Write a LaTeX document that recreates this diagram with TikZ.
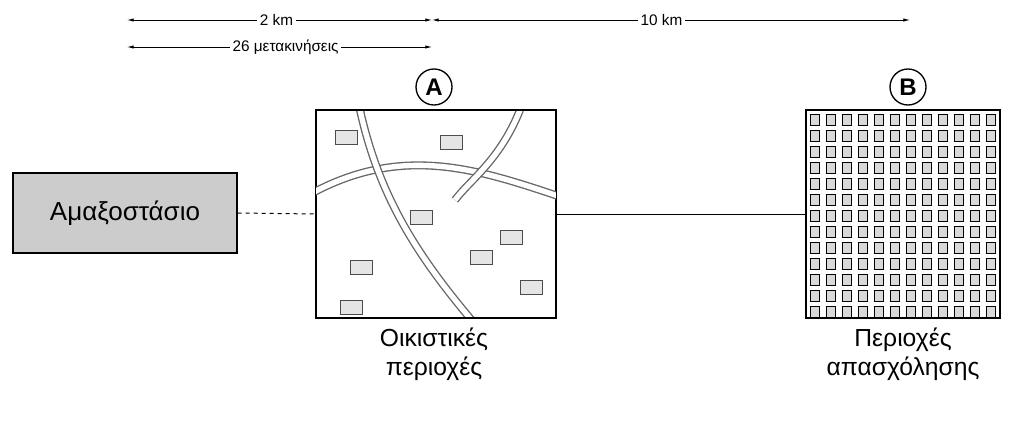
\documentclass[tikz,border=0pt]{standalone}
\usepackage{fontspec}
\setmainfont{Liberation Sans}
\usetikzlibrary{arrows.meta}
\tikzset{every picture/.style={line width=0.75pt}}
\tikzset{dim/.style={{Latex[length=5pt,width=2.5pt]}-{Latex[length=5pt,width=2.5pt]}, line width=0.6pt},
  dimlabel/.style={fill=white, inner sep=2pt, font=\fontsize{11.5}{13}\selectfont},
  letter/.style={circle, draw, line width=1pt, minimum size=27pt, inner sep=0pt, font=\fontsize{18}{20}\selectfont\bfseries},
  area/.style={draw, line width=1pt, fill=white},
  caption/.style={align=center, font=\fontsize{18.5}{22}\selectfont}}

\begin{document}
\begin{tikzpicture}[x=0.75pt,y=0.75pt,yscale=-1]
\useasboundingbox (0,0) rectangle (1024,421);

% distances
\coordinate (d1) at (127,20);
\coordinate (d2) at (432,20);
\coordinate (d3) at (910,20);
\coordinate (t1) at (127,47);
\coordinate (t2) at (432,47);
\draw [dim] (d1) -- (d2) node [dimlabel, pos=0.49] {2 km};
\draw [dim] (d2) -- (d3) node [dimlabel, pos=0.48] {10 km};
\draw [dim] (t1) -- (t2) node [dimlabel, pos=0.52] {26 μετακινήσεις};

% depot
\node (depot) [draw, line width=1pt, fill=black!20, minimum width=168pt, minimum height=60pt, font=\fontsize{19.5}{22}\selectfont] at (125,213) {Αμαξοστάσιο};

% areas
\node (areaA) [area, minimum width=180pt, minimum height=155pt] at (436,214) {};
\node (areaB) [area, minimum width=145pt, minimum height=155pt] at (903,214) {};

% rough map of A
\begin{scope}
\clip (areaA.south west) rectangle (areaA.north east);
\draw [black!60, line width=6pt] (300,200) .. controls (400,140) and (480,170) .. (570,200);
\draw [white, line width=4pt] (300,200) .. controls (400,140) and (480,170) .. (570,200);
\draw [black!60, line width=6pt] (360,110) .. controls (380,200) and (420,260) .. (480,330);
\draw [white, line width=4pt] (360,110) .. controls (380,200) and (420,260) .. (480,330);
\draw [black!60, line width=6pt] (520,110) .. controls (500,160) and (470,180) .. (455,200);
\draw [white, line width=4pt] (520,110) .. controls (500,160) and (470,180) .. (455,200);
\foreach \x/\y in {335/130, 440/135, 500/230, 350/260, 410/210, 520/280, 470/250, 340/300}
  \draw [black!70, fill=black!10] (\x,\y) rectangle ++(22,14);
\end{scope}

% rough city of B
\begin{scope}
\clip (areaB.south west) rectangle (areaB.north east);
\foreach \x in {810,826,...,1000}
  \foreach \y in {114,130,...,317}
    \draw [fill=black!15] (\x,\y) rectangle ++(9,11);
\end{scope}
\draw [line width=1pt] (areaA.south west) rectangle (areaA.north east);
\draw [line width=1pt] (areaB.south west) rectangle (areaB.north east);

\node (A) [letter] at (434,87) {A};
\node (B) [letter] at (908,87) {B};

% links
\draw [dashed] (depot.east) -- (areaA.west);
\draw (areaA.east) -- (areaB.west);

\node (capA) [caption, anchor=north] at (434,323) {Οικιστικές\\περιοχές};
\node (capB) [caption, anchor=north] at (903,323) {Περιοχές\\απασχόλησης};

\end{tikzpicture}
\end{document}
